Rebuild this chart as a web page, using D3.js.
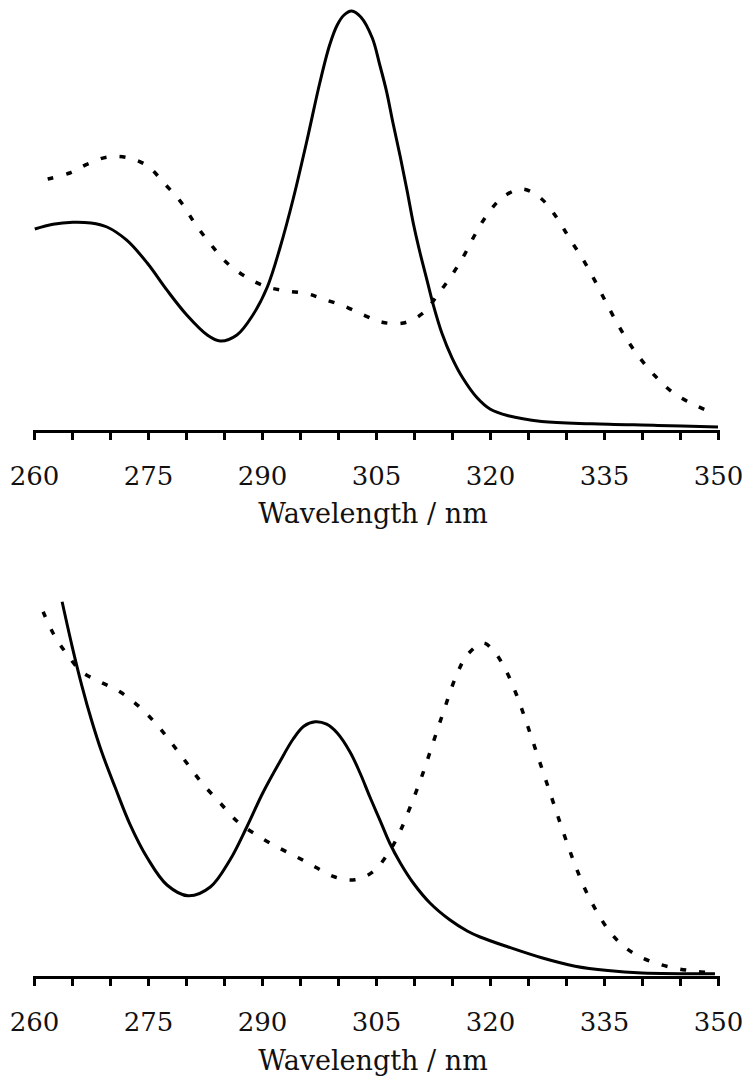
<!DOCTYPE html>
<html>
<head>
<meta charset="utf-8">
<script src="https://cdn.jsdelivr.net/npm/d3@7"></script>
<style>
  body { margin: 0; background: #fff; }
  svg { display: block; }
  .axis path, .axis line { stroke: #000; stroke-width: 3; }
  .axis text { font-family: "DejaVu Serif", serif; font-size: 26px; fill: #111; }
  .xlabel { font-family: "DejaVu Serif", serif; font-size: 27px; fill: #111; }
  .solid { fill: none; stroke: #000; stroke-width: 3; }
  .dashed { fill: none; stroke: #000; stroke-width: 3.5; stroke-dasharray: 6 13; }
</style>
</head>
<body>
<svg id="chart" width="750" height="1091"></svg>
<script>
// ---- data (absorbance, arbitrary units) ----
const tickValues = d3.range(260, 351, 5);
const labelValues = [260, 275, 290, 305, 320, 335, 350];

// top panel, solid
const topSolidNm  = [260.1, 262.5, 265.1, 267.5, 269.6, 272.2, 274.9, 277.5, 280.1, 282.8, 284.5, 286.7, 288.8, 290.7, 292.4, 294.1, 295.9, 297.6, 298.9, 299.9, 300.8, 301.8, 303.0, 304.5, 305.5, 306.4, 307.2, 308.2, 309.1, 309.9, 310.8, 311.7, 312.5, 313.7, 315.0, 316.4, 318.3, 320.0, 322.4, 326.8, 333.4, 342.1, 350];
const topSolidAbs = [0.505, 0.517, 0.522, 0.52, 0.51, 0.477, 0.42, 0.352, 0.29, 0.24, 0.225, 0.24, 0.29, 0.36, 0.46, 0.58, 0.725, 0.87, 0.965, 1.015, 1.04, 1.05, 1.035, 0.983, 0.915, 0.848, 0.773, 0.685, 0.60, 0.52, 0.445, 0.378, 0.318, 0.243, 0.183, 0.133, 0.083, 0.055, 0.038, 0.024, 0.018, 0.014, 0.01];

// top panel, dashed
const topDashNm  = [261.8, 264.7, 267.1, 269.7, 272.4, 274.9, 277.2, 279.5, 281.2, 283.2, 285.4, 288.1, 290.7, 293.3, 296.0, 298.0, 300.7, 303.6, 305.8, 308.6, 311.2, 313.2, 315.1, 316.7, 318.0, 319.6, 321.7, 324.3, 326.8, 328.9, 330.5, 332.1, 333.6, 334.9, 336.2, 337.8, 339.5, 341.7, 344.0, 346.6, 349.3];
const topDashAbs = [0.63, 0.645, 0.668, 0.685, 0.683, 0.663, 0.618, 0.568, 0.518, 0.468, 0.42, 0.383, 0.36, 0.35, 0.343, 0.33, 0.313, 0.288, 0.272, 0.27, 0.295, 0.343, 0.393, 0.443, 0.49, 0.54, 0.585, 0.605, 0.58, 0.53, 0.48, 0.433, 0.383, 0.335, 0.288, 0.235, 0.188, 0.138, 0.097, 0.068, 0.045];

// bottom panel, solid
const botSolidNm  = [263.7, 265.0, 266.3, 267.6, 268.9, 270.7, 272.6, 274.9, 277.5, 280.3, 283.2, 285.8, 288.0, 290.1, 292.4, 294.1, 295.5, 297.0, 298.5, 299.9, 301.6, 302.9, 304.2, 305.5, 306.8, 308.2, 309.9, 312.1, 314.7, 317.0, 318.7, 322.4, 326.8, 331.2, 335.5, 340.0, 349.6];
const botSolidAbs = [0.938, 0.828, 0.728, 0.64, 0.563, 0.473, 0.383, 0.298, 0.23, 0.203, 0.225, 0.293, 0.375, 0.46, 0.54, 0.595, 0.627, 0.638, 0.632, 0.61, 0.562, 0.51, 0.45, 0.393, 0.335, 0.285, 0.235, 0.185, 0.143, 0.115, 0.10, 0.075, 0.048, 0.027, 0.016, 0.01, 0.008];

// bottom panel, dashed
const botDashNm  = [261.2, 262.5, 264.1, 266.3, 268.7, 271.3, 273.9, 276.2, 278.3, 280.3, 282.1, 284.5, 286.8, 289.3, 292.0, 294.6, 297.0, 299.6, 302.2, 304.6, 306.8, 308.2, 309.5, 311.0, 312.5, 314.0, 315.5, 317.0, 319.1, 320.5, 322.0, 323.5, 325.0, 326.5, 328.0, 329.5, 331.0, 332.5, 334.0, 335.5, 337.0, 339.0, 341.3, 344.1, 346.7, 349.3];
const botDashAbs = [0.913, 0.86, 0.813, 0.763, 0.738, 0.713, 0.675, 0.63, 0.58, 0.53, 0.485, 0.435, 0.388, 0.355, 0.325, 0.30, 0.275, 0.25, 0.243, 0.263, 0.315, 0.365, 0.425, 0.50, 0.585, 0.67, 0.75, 0.805, 0.835, 0.815, 0.77, 0.705, 0.625, 0.54, 0.455, 0.37, 0.29, 0.22, 0.165, 0.12, 0.087, 0.058, 0.038, 0.023, 0.015, 0.01];

const svg = d3.select("#chart");

const x = d3.scaleLinear().domain([260, 350]).range([34, 718]);

function drawPanel(baseY, series, labelY) {
    const y = d3.scaleLinear().domain([0, 1]).range([baseY, baseY - 400]);
    const g = svg.append("g");

    series.forEach(s => {
        const pts = s.nm.map((v, i) => [v, s.abs[i]]);
        const line = d3.line()
            .x(d => x(d[0]))
            .y(d => y(d[1]))
            .curve(d3.curveCatmullRom.alpha(0.5));
        g.append("path")
            .attr("class", s.cls)
            .attr("d", line(pts));
    });

    const axis = d3.axisBottom(x)
        .tickValues(tickValues)
        .tickSizeInner(9)
        .tickSizeOuter(0)
        .tickPadding(27)
        .tickFormat(d => labelValues.includes(d) ? d : "");

    const ax = g.append("g")
        .attr("class", "axis")
        .attr("transform", `translate(0,${baseY})`)
        .call(axis);
    ax.select(".domain").attr("stroke-linecap", "square");
    ax.selectAll("text").attr("dy", "0.71em");

    g.append("text")
        .attr("class", "xlabel")
        .attr("x", 373)
        .attr("y", labelY)
        .attr("text-anchor", "middle")
        .text("Wavelength / nm");
}

drawPanel(431, [
    {nm: topSolidNm, abs: topSolidAbs, cls: "solid"},
    {nm: topDashNm, abs: topDashAbs, cls: "dashed"}
], 523);

drawPanel(977, [
    {nm: botSolidNm, abs: botSolidAbs, cls: "solid"},
    {nm: botDashNm, abs: botDashAbs, cls: "dashed"}
], 1070);
</script>
</body>
</html>
